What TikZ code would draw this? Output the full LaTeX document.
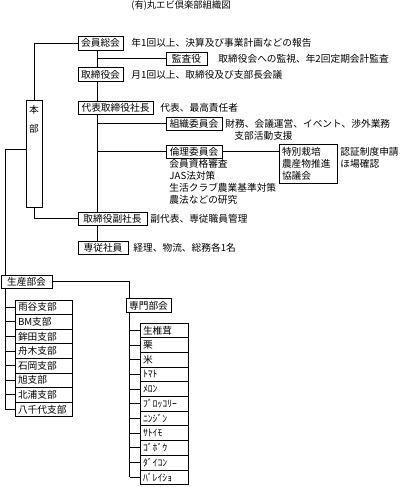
\documentclass[tikz,border=0pt]{standalone}
\usepackage{fontspec}
\setmainfont{Noto Sans CJK JP}
\newcommand{\myfs}{\fontsize{9.7}{12}\selectfont}
\newcommand{\myhw}{\fontsize{9.7}{12}\selectfont}
\begin{document}
\begin{tikzpicture}[x=1pt,y=-1pt,line width=0.95pt,
  box/.style={draw,line width=0.95pt,inner sep=0pt,minimum height=14pt,font=\myfs,align=center},
  lbox/.style={draw,line width=0.95pt,inner ysep=0pt,inner xsep=3pt,minimum height=14.6pt,font=\myfs,align=left},
  lbl/.style={anchor=west,inner sep=0pt,font=\myfs},
  conn/.style={draw,line width=0.95pt}]
\path[use as bounding box,fill=white] (0,0) rectangle (400,487);

\node[inner sep=0pt,font=\fontsize{9.3}{11}\selectfont] (title) at (181,6) {(有)丸エビ倶楽部組織図};

% boxes
\node[box,minimum width=45pt] (kaiin) at (100.5,43) {会員総会};
\node[box,minimum width=41pt,minimum height=13pt] (kansa) at (186.5,58.5) {監査役};
\node[box,minimum width=45pt] (torikai) at (100.5,74.5) {取締役会};
\node[box,minimum width=75pt,minimum height=13pt] (daihyo) at (115.5,107.5) {代表取締役社長};
\node[box,minimum width=16pt,minimum height=107pt] (honbu) at (34,153.5) {};
\node[inner sep=0pt,font=\myfs] (hon) at (34,110) {本};
\node[inner sep=0pt,font=\myfs] (bu) at (34,129) {部};
\node[box,minimum width=56pt,minimum height=13pt] (soshiki) at (194,123.5) {組織委員会};
\node[box,minimum width=56pt,minimum height=13pt] (rinri) at (194,151.5) {倫理委員会};
\node[draw,line width=0.95pt,inner xsep=3pt,inner ysep=0pt,text width=52pt,minimum height=39pt,align=left,font=\myfs] (tokubetsu) at (308,163.5) {特別栽培\\農産物推進\\協議会};
\node[box,minimum width=69pt,minimum height=13pt] (fuku) at (112.5,218.5) {取締役副社長};
\node[box,minimum width=50pt,minimum height=13pt] (senju) at (103,247.5) {専従社員};
\node[box,minimum width=51pt,minimum height=13pt] (seisan) at (26.5,281.5) {生産部会};
\node[box,minimum width=45pt,minimum height=14pt] (senmon) at (148.5,305.5) {専門部会};

\foreach \t [count=\i from 1] in {雨谷支部,BM支部,鉾田支部,舟木支部,石岡支部,旭支部,北浦支部,八千代支部}
  \node[lbox,text width=51pt] (b\i) at (43.5,{300+14.6*(\i-1)+7.3}) {\t};

\foreach \t [count=\i from 1] in {{\myfs 生椎茸},{\myfs 栗},{\myfs 米},{\myhw ﾄﾏﾄ},{\myhw ﾒﾛﾝ},{\myhw ﾌﾞﾛｯｺﾘｰ},{\myhw ﾆﾝｼﾞﾝ},{\myhw ｻﾄｲﾓ},{\myhw ｺﾞﾎﾞｳ},{\myhw ﾀﾞｲｺﾝ},{\myhw ﾊﾞﾚｲｼｮ}}
  \node[lbox,text width=42pt,minimum height=14.7pt] (s\i) at (164,{323+14.7*(\i-1)+7.35}) {\t};

% labels
\node[lbl] (d1) at (131,43) {年1回以上、決算及び事業計画などの報告};
\node[lbl] (d2) at (218,58.5) {取締役会への監視、年2回定期会計監査};
\node[lbl] (d3) at (131,74.5) {月1回以上、取締役及び支部長会議};
\node[lbl] (d4) at (160,107.5) {代表、最高責任者};
\node[lbl] (d5) at (225,123.5) {財務、会議運営、イベント、渉外業務};
\node[lbl] (d6) at (234,135.5) {支部活動支援};
\node[lbl] (r1) at (169,163.5) {会員資格審査};
\node[lbl] (r2) at (169,175.5) {JAS法対策};
\node[lbl] (r3) at (169,187.5) {生活クラブ農業基準対策};
\node[lbl] (r4) at (169,199.5) {農法などの研究};
\node[lbl] (t1) at (340,151.5) {認証制度申請};
\node[lbl] (t2) at (340,163.5) {ほ場確認};
\node[lbl] (d9) at (150,218.5) {副代表、専従職員管理};
\node[lbl] (d10) at (133,247.5) {経理、物流、総務各1名};

% connectors
\coordinate (trunk) at (97,0);
\draw[conn] (kaiin.south -| trunk) -- (torikai.north -| trunk);
\draw[conn] (torikai.south -| trunk) -- (daihyo.north -| trunk);
\draw[conn] (daihyo.south -| trunk) -- (fuku.north -| trunk);
\draw[conn] (fuku.south -| trunk) -- (senju.north -| trunk);
\draw[conn] (trunk |- kansa.west) -- (kansa.west);
\draw[conn] (trunk |- soshiki.west) -- (soshiki.west);
\draw[conn] (trunk |- rinri.west) -- (rinri.west);
\draw[conn] (rinri.east) -- (rinri.east -| tokubetsu.west);
\draw[conn] (honbu.north) |- (kaiin.west);
\draw[conn] (honbu.south) |- (fuku.west);
\coordinate (lft) at (5,149);
\draw[conn] (lft -| honbu.west) -- (lft) -- (lft |- seisan.north);
\coordinate (rt) at (129.5,0);
\draw[conn] (seisan.east) -| (rt |- senmon.north);
\draw[conn] (lft |- seisan.south) -- (lft |- b8.west);
\foreach \i in {1,...,8} \draw[conn] (lft |- b\i.west) -- (b\i.west);
\draw[conn] (rt |- senmon.south) -- (rt |- s11.west);
\foreach \i in {1,...,11} \draw[conn] (rt |- s\i.west) -- (s\i.west);
\end{tikzpicture}
\end{document}
